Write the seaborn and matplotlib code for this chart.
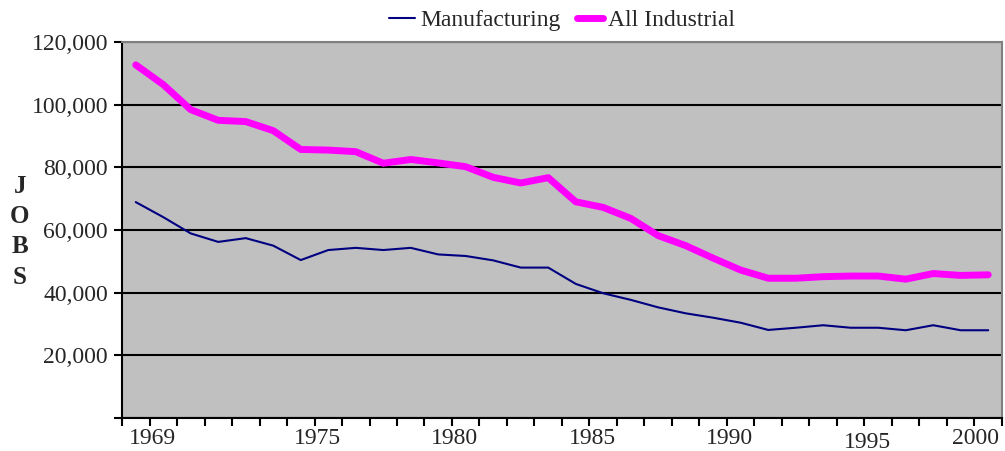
import matplotlib
matplotlib.use("Agg")
import matplotlib.pyplot as plt
import matplotlib.transforms as mtransforms
from matplotlib.ticker import FuncFormatter
import seaborn as sns
import pandas as pd

# data
years = list(range(1969, 2001))
manufacturing = [68900, 64100, 58900, 56200, 57400, 55000, 50400, 53600,
                 54300, 53600, 54300, 52200, 51700, 50300, 48000, 48000,
                 42800, 39800, 37700, 35300, 33400, 32000, 30400, 28100,
                 28800, 29600, 28800, 28800, 28000, 29600, 28000, 28000]
all_industrial = [112700, 106400, 98400, 95000, 94600, 91700, 85700, 85500,
                  85000, 81300, 82500, 81400, 80200, 76800, 75000, 76700,
                  69000, 67200, 63700, 58200, 55000, 51000, 47200, 44600,
                  44600, 45100, 45300, 45300, 44300, 46100, 45500, 45700]
tick_years = [1969, 1975, 1980, 1985, 1990, 1995, 2000]
y_ticks = [0, 20000, 40000, 60000, 80000, 100000, 120000]

df = pd.DataFrame({"year": years, "Manufacturing": manufacturing,
                   "All Industrial": all_industrial})

sns.set_style("white")
plt.rcParams["font.family"] = ["Liberation Serif", "DejaVu Serif"]

fig = plt.figure(figsize=(10.05, 4.51), dpi=100)
ax = fig.add_axes([0.1214, 0.0732, 0.8756, 0.8337])
ax.set_facecolor("#c0c0c0")

sns.lineplot(data=df, x="year", y="Manufacturing", ax=ax, color="#000080",
             linewidth=1.5, label="Manufacturing")
sns.lineplot(data=df, x="year", y="All Industrial", ax=ax, color="#ff00ff",
             linewidth=5, label="All Industrial")

ax.set_xlim(years[0] - 0.5, years[-1] + 0.5)
ax.set_ylim(y_ticks[0], y_ticks[-1])
ax.set_yticks(y_ticks)
ax.yaxis.set_major_formatter(FuncFormatter(lambda v, p: "" if v == 0 else f"{int(v):,}"))

# x labels sit a bit right of the category centres, like the original
label_shift = {2000: -0.45}
ax.set_xticks([y + label_shift.get(y, 0.6) for y in tick_years])
ax.set_xticklabels([str(y) for y in tick_years])
ax.set_xticks([y - 0.5 for y in years] + [years[-1] + 0.5], minor=True)
ax.tick_params(axis="x", which="major", length=0, pad=7, labelsize=17)
ax.tick_params(axis="x", which="minor", length=6, width=1.5, direction="out", color="black", bottom=True)
ax.tick_params(axis="y", length=6, width=1.5, direction="out", color="black", left=True, labelsize=17, pad=4)
for lab in ax.get_xticklabels():
    if lab.get_text() == "1995":
        lab.set_transform(lab.get_transform() + mtransforms.ScaledTranslation(0, -4 / 100, fig.dpi_scale_trans))

ax.grid(axis="y", color="black", linewidth=1.5)
ax.grid(axis="x", visible=False)
ax.set_axisbelow(True)

for side in ["left", "bottom"]:
    ax.spines[side].set_color("black")
    ax.spines[side].set_linewidth(1.5)
for side in ["top", "right"]:
    ax.spines[side].set_color("#808080")
    ax.spines[side].set_linewidth(1.5)

ax.set_xlabel("")
ax.set_ylabel("J\nO\nB\nS", rotation=0, fontsize=18, fontweight="bold",
              linespacing=1.4, va="center", ha="center")
ax.yaxis.set_label_coords(-0.116, 0.495)

ax.legend(loc="center", bbox_to_anchor=(0.5, 1.058), ncol=2, frameon=False,
          fontsize=17, handlelength=1.1, handletextpad=0.2, columnspacing=0.7,
          borderaxespad=0)

fig.savefig("out.png", dpi=100)
